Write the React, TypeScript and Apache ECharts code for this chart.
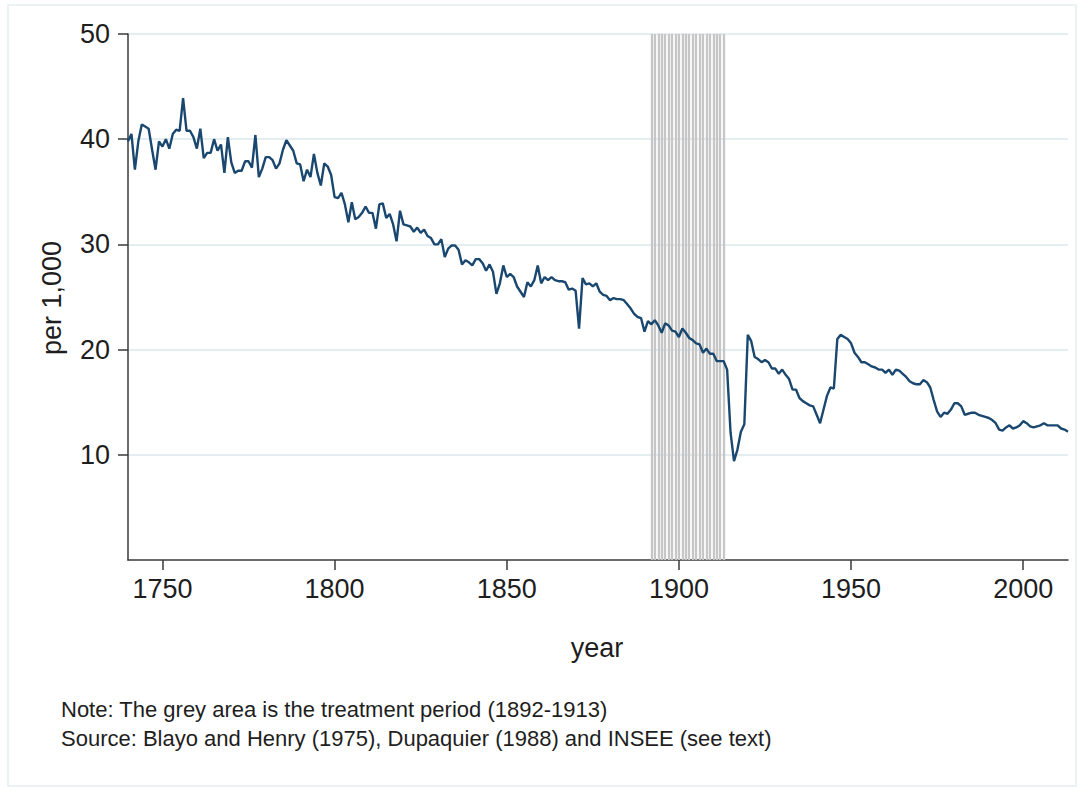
import React, { useEffect, useRef } from "react";
import * as echarts from "echarts";

// Crude birth rate, per 1,000, annual values from START_YEAR onwards
const START_YEAR = 1740;
const birthRate: number[] = [
  // 1740-1749
  39.8, 40.5, 37.1, 39.8, 41.4, 41.2, 41.0, 39.0, 37.1, 39.8,
  // 1750-1759
  39.3, 40.0, 39.1, 40.5, 40.9, 40.8, 43.9, 40.8, 40.8, 40.2,
  // 1760-1769
  39.1, 41.0, 38.2, 38.7, 38.7, 40.0, 38.9, 39.5, 36.8, 40.2,
  // 1770-1779
  37.8, 36.8, 37.0, 37.0, 37.9, 37.9, 37.3, 40.4, 36.4, 37.2,
  // 1780-1789
  38.3, 38.3, 38.0, 37.2, 37.7, 39.0, 39.9, 39.4, 38.9, 37.7,
  // 1790-1799
  37.6, 36.0, 37.1, 36.4, 38.6, 36.8, 35.6, 37.7, 37.4, 36.6,
  // 1800-1809
  34.5, 34.4, 34.9, 33.8, 32.1, 34.0, 32.4, 32.6, 33.0, 33.6,
  // 1810-1819
  33.0, 33.0, 31.5, 33.8, 33.9, 32.5, 32.9, 31.9, 30.3, 33.2,
  // 1820-1829
  31.9, 31.8, 31.7, 31.2, 31.6, 31.1, 31.4, 30.8, 30.6, 30.0,
  // 1830-1839
  30.0, 30.5, 28.8, 29.6, 29.9, 29.9, 29.5, 28.1, 28.5, 28.3,
  // 1840-1849
  28.0, 28.6, 28.6, 28.2, 27.5, 28.1, 27.4, 25.3, 26.3, 28.0,
  // 1850-1859
  26.9, 27.2, 26.9, 26.0, 25.5, 25.0, 26.4, 26.0, 26.6, 28.0,
  // 1860-1869
  26.3, 26.9, 26.6, 26.9, 26.6, 26.5, 26.5, 26.4, 25.7, 25.8,
  // 1870-1879
  25.6, 22.0, 26.8, 26.2, 26.3, 26.0, 26.3, 25.5, 25.2, 25.1,
  // 1880-1889
  24.7, 24.9, 24.8, 24.8, 24.7, 24.3, 23.9, 23.4, 23.1, 23.0,
  // 1890-1899
  21.7, 22.7, 22.4, 22.8, 22.3, 21.6, 22.5, 22.3, 21.8, 21.7,
  // 1900-1909
  21.2, 22.0, 21.6, 21.1, 20.9, 20.6, 20.5, 19.7, 20.1, 19.6,
  // 1910-1919
  19.6, 18.9, 18.9, 18.9, 18.1, 12.1, 9.4, 10.5, 12.2, 12.9,
  // 1920-1929
  21.4, 20.8, 19.3, 19.1, 18.8, 19.0, 18.8, 18.2, 18.2, 17.7,
  // 1930-1939
  18.1, 17.6, 17.2, 16.2, 16.2, 15.4, 15.1, 14.9, 14.7, 14.6,
  // 1940-1949
  13.8, 13.0, 14.3, 15.6, 16.4, 16.3, 21.0, 21.4, 21.2, 21.0,
  // 1950-1959
  20.6, 19.7, 19.3, 18.8, 18.8, 18.6, 18.4, 18.3, 18.1, 18.1,
  // 1960-1969
  17.8, 18.1, 17.6, 18.1, 18.0, 17.7, 17.4, 17.0, 16.8, 16.7,
  // 1970-1979
  16.7, 17.1, 16.9, 16.4, 15.2, 14.1, 13.6, 14.0, 13.9, 14.3,
  // 1980-1989
  14.9, 14.9, 14.6, 13.8, 13.9, 14.0, 14.0, 13.8, 13.7, 13.6,
  // 1990-1999
  13.5, 13.3, 13.0, 12.4, 12.3, 12.6, 12.8, 12.5, 12.6, 12.8,
  // 2000-2009
  13.2, 13.0, 12.7, 12.6, 12.7, 12.8, 13.0, 12.8, 12.8, 12.8,
  // 2010-2013
  12.8, 12.5, 12.4, 12.2,
];

const treatmentYears: number[] = [
  1892, 1893, 1894, 1895, 1896, 1897, 1898, 1899, 1900, 1901, 1902,
  1903, 1904, 1905, 1906, 1907, 1908, 1909, 1910, 1911, 1912, 1913,
];

const xTickLabels: number[] = [1750, 1800, 1850, 1900, 1950, 2000];
const yTickLabels: number[] = [10, 20, 30, 40, 50];

const noteLines: string[] = [
  "Note: The grey area is the treatment period (1892-1913)",
  "Source: Blayo and Henry (1975), Dupaquier (1988) and INSEE (see text)",
];

const FONT = "'Liberation Sans', Arial, Helvetica, sans-serif";
const TEXT_COLOR = "#1e1e1e";
const AXIS_COLOR = "#3a3a3a";

export default function App() {
  const ref = useRef<HTMLDivElement>(null);

  useEffect(() => {
    document.body.style.margin = "0";
    if (!ref.current) return;
    const chart = echarts.init(ref.current, null, { renderer: "svg" });

    const seriesData = birthRate.map((v, i) => [START_YEAR + i, v]);
    const endYear = START_YEAR + birthRate.length - 1;

    chart.setOption({
      animation: false,
      backgroundColor: "#ffffff",
      grid: { left: 128, right: 16, top: 34, bottom: 231, containLabel: false },
      xAxis: {
        type: "value",
        min: START_YEAR,
        max: endYear,
        axisLine: { show: true, onZero: false, lineStyle: { color: AXIS_COLOR, width: 1.5 } },
        axisTick: {
          show: true,
          customValues: xTickLabels,
          length: 10,
          lineStyle: { color: AXIS_COLOR, width: 1.5 },
        },
        axisLabel: {
          customValues: xTickLabels,
          formatter: (v: number) => String(v),
          margin: 15,
          fontSize: 27,
          fontFamily: FONT,
          color: TEXT_COLOR,
        },
        splitLine: { show: false },
      },
      yAxis: {
        type: "value",
        min: 0,
        max: 50,
        interval: 10,
        axisLine: { show: true, onZero: false, lineStyle: { color: AXIS_COLOR, width: 1.5 } },
        axisTick: {
          show: true,
          customValues: yTickLabels,
          length: 10,
          lineStyle: { color: AXIS_COLOR, width: 1.5 },
        },
        axisLabel: {
          customValues: yTickLabels,
          formatter: (v: number) => String(v),
          margin: 18,
          fontSize: 27,
          fontFamily: FONT,
          color: TEXT_COLOR,
        },
        splitLine: { show: true, lineStyle: { color: "#e4edf0", width: 1.8 } },
      },
      series: [
        {
          type: "line",
          data: [],
          z: 1,
          silent: true,
          markLine: {
            z: 1,
            silent: true,
            symbol: ["none", "none"],
            label: { show: false },
            emphasis: { disabled: true },
            lineStyle: { color: "#c6c6c6", width: 2.3, type: "solid" },
            data: treatmentYears.map((y) => ({ xAxis: y })),
          },
        },
        {
          type: "line",
          data: seriesData,
          z: 6,
          showSymbol: false,
          symbol: "none",
          lineStyle: { color: "#1a476f", width: 2.4 },
          itemStyle: { color: "#1a476f" },
        },
      ],
      graphic: [
        {
          type: "rect",
          silent: true,
          shape: { x: 8, y: 5, width: 1068, height: 781 },
          style: { fill: "none", stroke: "#e6edf0", lineWidth: 1.5 },
        },
        {
          type: "text",
          x: 597,
          y: 648,
          style: {
            text: "year",
            fontSize: 27,
            fontFamily: FONT,
            fill: TEXT_COLOR,
            align: "center",
            verticalAlign: "middle",
          },
        },
        {
          type: "text",
          x: 52,
          y: 298,
          rotation: Math.PI / 2,
          style: {
            text: "per 1,000",
            fontSize: 27,
            fontFamily: FONT,
            fill: TEXT_COLOR,
            align: "center",
            verticalAlign: "middle",
          },
        },
        ...noteLines.map((t, i) => ({
          type: "text",
          x: 61,
          y: 709 + i * 29,
          style: {
            text: t,
            fontSize: 22,
            fontFamily: FONT,
            fill: TEXT_COLOR,
            align: "left",
            verticalAlign: "middle",
          },
        })),
      ],
    });

    return () => chart.dispose();
  }, []);

  return <div ref={ref} style={{ width: 1084, height: 791 }} />;
}
